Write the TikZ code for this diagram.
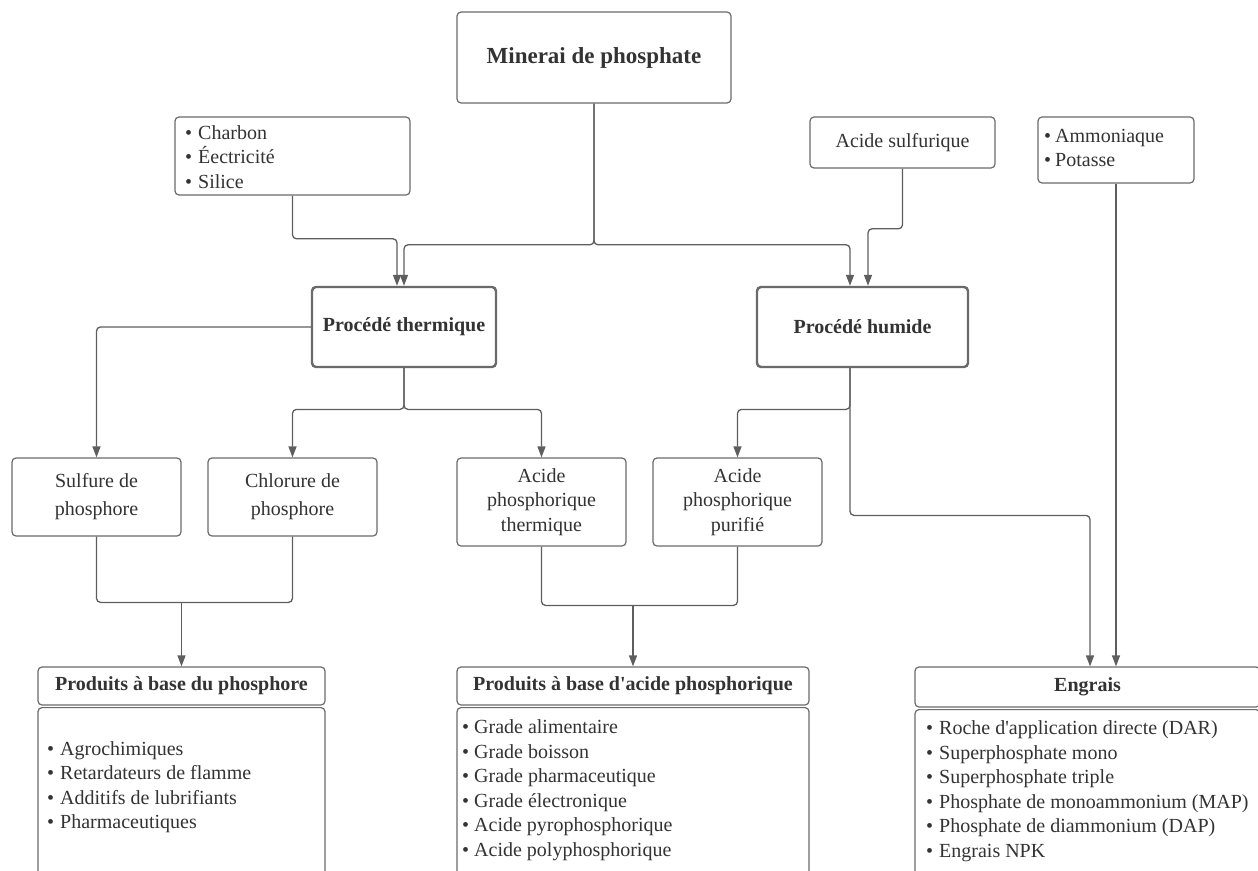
\documentclass[tikz,border=0pt]{standalone}
\usepackage{fontspec}
\setmainfont{Liberation Serif}[Ligatures=TeXOff]
\usetikzlibrary{arrows.meta}
\definecolor{bordc}{HTML}{6A6A6A}
\definecolor{linec}{HTML}{5E5E5E}
\definecolor{txtc}{HTML}{333333}
\tikzset{
  box/.style={draw=bordc, line width=1.2pt, rounded corners=4pt, fill=white, inner sep=0pt, text=txtc, font=\fontsize{20}{24.5}\selectfont},
  bigbox/.style={box, line width=2.4pt, font=\fontsize{20}{24.5}\selectfont\bfseries},
  listtxt/.style={anchor=west, align=left, inner sep=0pt, text=txtc, font=\fontsize{20}{24.5}\selectfont},
  conn/.style={draw=linec, line width=1.3pt, rounded corners=4pt},
  arr/.style={conn, -{Triangle[width=8pt,length=11pt]}}
}
\newcommand{\bul}[1][13pt]{\makebox[#1][l]{•}}
\begin{document}
\begin{tikzpicture}[x=1pt,y=-1pt]
\useasboundingbox (0,0) rectangle (1258,870);
\clip (0,0) rectangle (1258,870);
% top row
\node[box, minimum width=274pt, minimum height=91pt, font=\fontsize{23}{26}\selectfont\bfseries] (min) at (594,57.5) {Minerai de phosphate};
\node[box, minimum width=235pt, minimum height=78pt] (ch) at (292.5,156) {};
\node[listtxt] (chl) at (185,157) {\bul Charbon\\\bul Éectricité\\\bul Silice};
\node[box, minimum width=185pt, minimum height=51pt] (as) at (902.5,142.5) {Acide sulfurique};
\node[box, minimum width=156pt, minimum height=66pt] (am) at (1116,150) {};
\node[listtxt] (aml) at (1044,148) {\bul[11pt]Ammoniaque\\\bul[11pt]Potasse};
% processes
\node[bigbox, minimum width=184pt, minimum height=80pt] (pt) at (404,327) {Procédé thermique};
\node[bigbox, minimum width=211pt, minimum height=80pt] (ph) at (862.5,327) {Procédé humide};
% intermediate
\node[box, minimum width=169pt, minimum height=78pt, align=center, font=\fontsize{20}{28}\selectfont] (su) at (96.5,497) {Sulfure de\\phosphore};
\node[box, minimum width=169pt, minimum height=78pt, align=center, font=\fontsize{20}{28}\selectfont] (cl) at (292.5,497) {Chlorure de\\phosphore};
\node[box, minimum width=169pt, minimum height=88pt, align=center] (at) at (541.5,502) {Acide\\phosphorique\\thermique};
\node[box, minimum width=169pt, minimum height=88pt, align=center] (pu) at (737.5,502) {Acide\\phosphorique\\purifié};
% products
\node[box, minimum width=287pt, minimum height=38pt, font=\fontsize{20}{24.5}\selectfont\bfseries] (pph) at (181.5,686) {Produits à base du phosphore};
\node[box, minimum width=287pt, minimum height=200pt, anchor=north] (ppb) at (181.5,707) {};
\node[listtxt] (ppl) at (47,787) {\bul Agrochimiques\\\bul Retardateurs de flamme\\\bul Additifs de lubrifiants\\\bul Pharmaceutiques};
\node[box, minimum width=352pt, minimum height=38pt, font=\fontsize{20}{24.5}\selectfont\bfseries] (pah) at (633,686) {Produits à base d'acide phosphorique};
\node[box, minimum width=352pt, minimum height=200pt, anchor=north] (pab) at (633,707) {};
\node[listtxt] (pal) at (462,790) {\bul[12pt]Grade alimentaire\\\bul[12pt]Grade boisson\\\bul[12pt]Grade pharmaceutique\\\bul[12pt]Grade électronique\\\bul[12pt]Acide pyrophosphorique\\\bul[12pt]Acide polyphosphorique};
\node[box, minimum width=345pt, minimum height=40pt, font=\fontsize{20}{24.5}\selectfont\bfseries] (eh) at (1087.5,687) {Engrais};
\node[box, minimum width=345pt, minimum height=200pt, anchor=north] (eb) at (1087.5,709) {};
\node[listtxt] (el) at (926,791) {\bul Roche d'application directe (DAR)\\\bul Superphosphate mono\\\bul Superphosphate triple\\\bul Phosphate de monoammonium (MAP)\\\bul Phosphate de diammonium (DAP)\\\bul Engrais NPK};
% connectors: top
\draw[arr] (min.south) |- ([yshift=41pt]pt.north) -- (pt.north);
\draw[arr] (min.south) |- ([xshift=-12.5pt,yshift=41pt]ph.north) -- ([xshift=-12.5pt]ph.north);
\draw[arr] (ch.south) |- ([xshift=-7pt,yshift=47pt]pt.north) -- ([xshift=-7pt]pt.north);
\draw[arr] (as.south) |- ([xshift=5.5pt,yshift=57pt]ph.north) -- ([xshift=5.5pt]ph.north);
\draw[arr] (am.south) -- ([xshift=28.5pt]eh.north);
% thermal process
\draw[arr] (pt.west) -| (su.north);
\draw[arr] (pt.south) |- ([yshift=48pt]cl.north) -- (cl.north);
\draw[arr] (pt.south) |- ([yshift=48pt]at.north) -- (at.north);
% wet process
\draw[arr] ([xshift=-12.5pt]ph.south) |- ([yshift=48pt]pu.north) -- (pu.north);
\draw[arr] ([xshift=-12.5pt]ph.south) |- ([xshift=2.5pt,yshift=151pt]eh.north) -- ([xshift=2.5pt]eh.north);
% products
\draw[conn] (su.south) |- ([yshift=64pt]pph.north);
\draw[conn] (cl.south) |- ([yshift=64pt]pph.north);
\draw[arr] ([yshift=64pt]pph.north) -- (pph.north);
\draw[conn] (at.south) |- ([yshift=61pt]pah.north);
\draw[conn] (pu.south) |- ([yshift=61pt]pah.north);
\draw[arr] ([yshift=61pt]pah.north) -- (pah.north);
\end{tikzpicture}
\end{document}
